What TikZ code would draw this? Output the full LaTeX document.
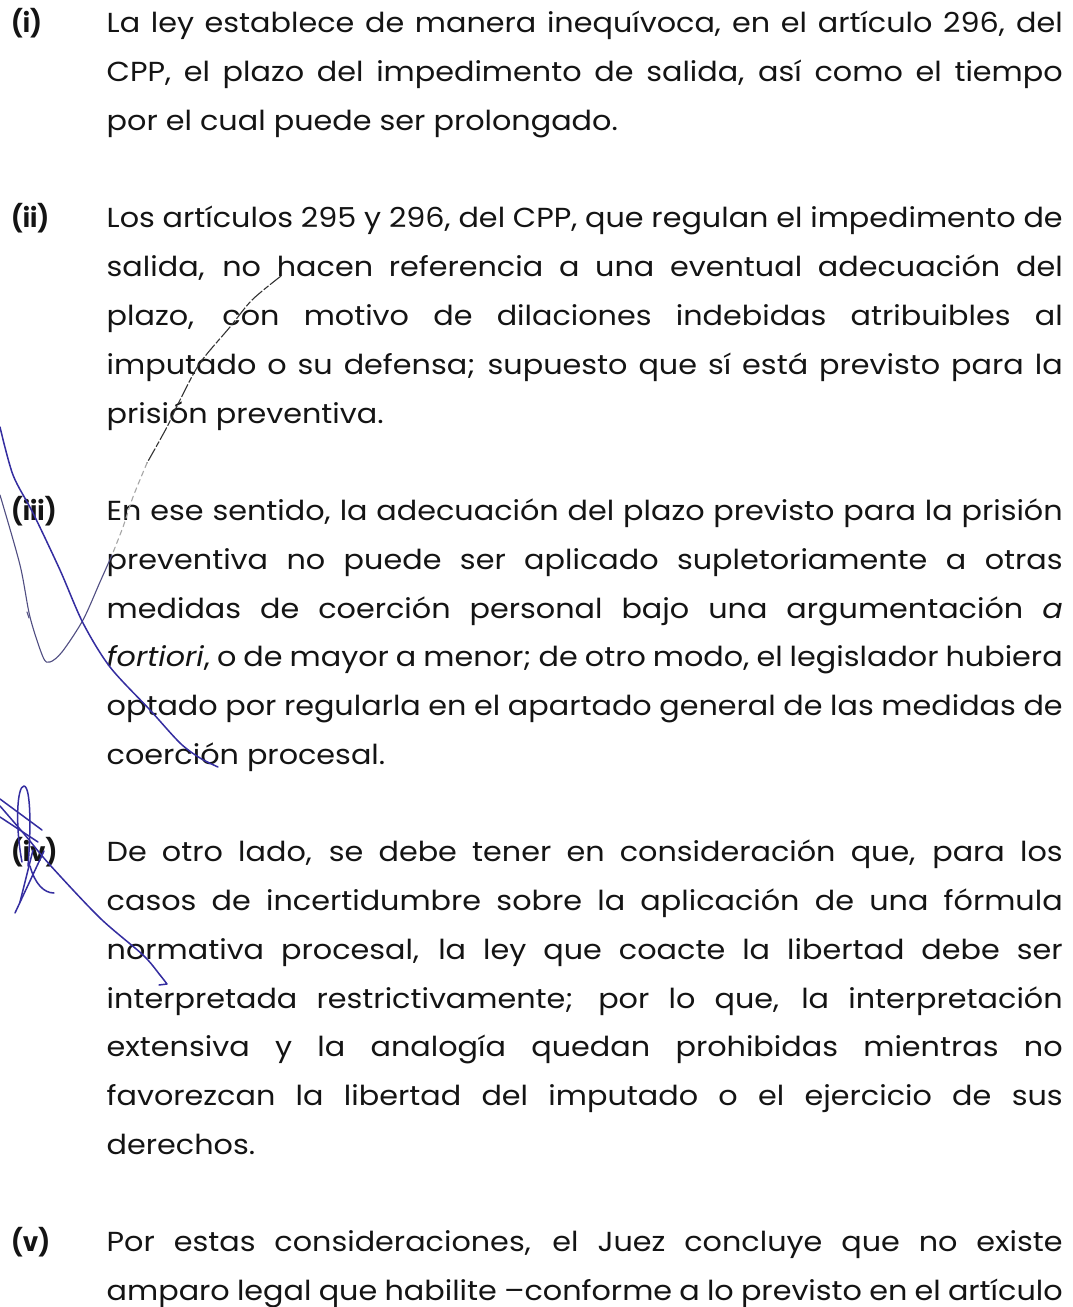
\documentclass[tikz,border=0pt]{standalone}
\usepackage{fontspec}
\setmainfont{Poppins}[FakeStretch=1.10]
\newfontfamily\labfont{Poppins}[FakeStretch=0.93]
\definecolor{ink}{RGB}{20,20,20}
\definecolor{penblue}{RGB}{52,45,160}
\definecolor{pengray}{RGB}{80,78,130}
\newcommand\txtfont{\fontsize{27.5bp}{33bp}\selectfont}
\newcommand\jline[3]{\node[txt] (#1) at (106.5,{33+48.75*#2}) {\makebox[956bp][s]{#3}};}
\newcommand\lastline[3]{\node[txt] (#1) at (106.5,{33+48.75*#2}) {#3};}
\newcommand\lab[3]{\node[lbl] (#1) at (11,{33+48.75*#2}) {#3};}
\begin{document}
\begin{tikzpicture}[x=1bp,y=-1bp,
  txt/.style={anchor=base west,inner sep=0pt,text=ink,font=\txtfont},
  lbl/.style={anchor=base west,inner sep=0pt,text=ink,font=\labfont\fontsize{26.5bp}{32bp}\selectfont\bfseries},
  pen/.style={draw=penblue,line width=1.5bp,line cap=round,line join=round},
  penthin/.style={draw=pengray,line width=1.1bp,line cap=round},
  dashpen/.style={draw=black!80,line width=1.1bp,dash pattern=on 14bp off 2bp on 6bp off 2bp}]
\fill[white] (0,0) rectangle (1072,1307);
\useasboundingbox (0,0) rectangle (1072,1307);
% (i)
\lab{li}{0}{(i)}
\jline{i1}{0}{La ley establece de manera inequívoca, en el artículo 296, del}
\jline{i2}{1}{CPP, el plazo del impedimento de salida, así como el tiempo}
\lastline{i3}{2}{por el cual puede ser prolongado.}
% (ii)
\lab{lii}{4}{(ii)}
\jline{ii1}{4}{Los artículos 295 y 296, del CPP, que regulan el impedimento de}
\jline{ii2}{5}{salida, no hacen referencia a una eventual adecuación del}
\jline{ii3}{6}{plazo, con motivo de dilaciones indebidas atribuibles al}
\jline{ii4}{7}{imputado o su defensa; supuesto que sí está previsto para la}
\lastline{ii5}{8}{prisión preventiva.}
% (iii)
\lab{liii}{10}{(iii)}
\jline{iii1}{10}{En ese sentido, la adecuación del plazo previsto para la prisión}
\jline{iii2}{11}{preventiva no puede ser aplicado supletoriamente a otras}
\jline{iii3}{12}{medidas de coerción personal bajo una argumentación \textit{a}}
\jline{iii4}{13}{\textit{fortiori}, o de mayor a menor; de otro modo, el legislador hubiera}
\jline{iii5}{14}{optado por regularla en el apartado general de las medidas de}
\lastline{iii6}{15}{coerción procesal.}
% (iv)
\lab{liv}{17}{(iv)}
\jline{iv1}{17}{De otro lado, se debe tener en consideración que, para los}
\jline{iv2}{18}{casos de incertidumbre sobre la aplicación de una fórmula}
\jline{iv3}{19}{normativa procesal, la ley que coacte la libertad debe ser}
\jline{iv4}{20}{interpretada restrictivamente; por lo que, la interpretación}
\jline{iv5}{21}{extensiva y la analogía quedan prohibidas mientras no}
\jline{iv6}{22}{favorezcan la libertad del imputado o el ejercicio de sus}
\lastline{iv7}{23}{derechos.}
% (v)
\lab{lv}{25}{(v)}
\jline{v1}{25}{Por estas consideraciones, el Juez concluye que no existe}
\jline{v2}{26}{amparo legal que habilite –conforme a lo previsto en el artículo}
% pen marks: dashed stroke from "hacen" down to the V
\draw[dashpen] plot[smooth] coordinates {(281,276) (252,300) (230,327) (200,363) (180,400) (167,427) (147,463)};
\draw[penthin,draw=gray!70,dash pattern=on 5bp off 4bp] plot[smooth] coordinates {(147,463) (133,497) (123,527) (112,555)};
\draw[penthin] plot[smooth] coordinates {(112,555) (100,582) (83,620) (62,652) (50,662) (43,657) (30,617) (20,565) (0,495)};
\draw[penthin] (27,612) -- (29,618);
% long blue stroke
\draw[pen] plot[smooth] coordinates {(0,427) (13,475) (33,513) (60,570) (83,623) (110,667) (150,710) (180,743) (200,758) (218,767)};
% scribble at (iv)
\draw[pen] (22,862) .. controls (15,825) and (17,786) .. (24,786) .. controls (31,787) and (31,830) .. (28,866);
\draw[pen] (0,799) -- (42,830);
\draw[pen] (0,817) -- (38,842);
\draw[pen] plot[smooth] coordinates {(0,806) (25,835) (50,865) (100,918) (143,955) (160,975) (167,984)} -- (159,985);
\draw[pen] (44,851) -- (15,913);
\draw[pen] (33,850) -- (20,902);
\draw[pen] (30,866) .. controls (35,884) and (44,893) .. (54,893);
\end{tikzpicture}
\end{document}
